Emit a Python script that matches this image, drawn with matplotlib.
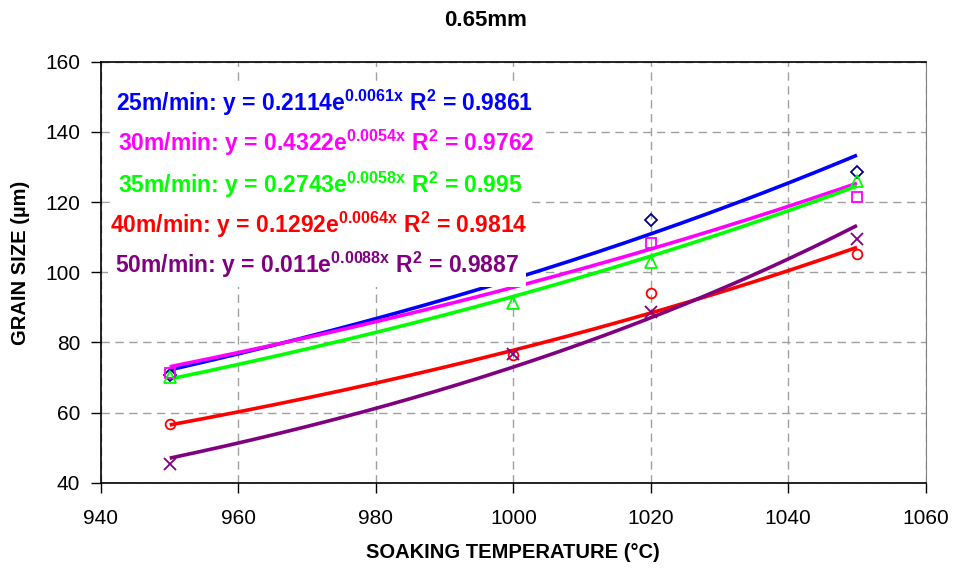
import numpy as np
import matplotlib
matplotlib.use("Agg")
import matplotlib.pyplot as plt

plt.rcParams['font.family'] = ['Liberation Sans', 'DejaVu Sans']
plt.rcParams['mathtext.fontset'] = 'custom'
plt.rcParams['mathtext.rm'] = 'Liberation Sans:bold'
plt.rcParams['mathtext.bf'] = 'Liberation Sans:bold'
plt.rcParams['mathtext.it'] = 'Liberation Sans:bold'

temps = [950, 1000, 1020, 1050]
speeds = ["25m/min", "30m/min", "35m/min", "40m/min", "50m/min"]
size_25 = [70.6, 99.5, 114.9, 128.5]
size_30 = [71.4, 98.5, 108.4, 121.5]
size_35 = [70.0, 91.1, 103.0, 126.0]
size_40 = [56.7, 76.5, 94.2, 105.1]
size_50 = [45.3, 76.7, 88.7, 109.4]
# trendline coefficients (y = a*exp(b*x)), exponents
coef_a = [0.2114, 0.4322, 0.2743, 0.1292, 0.011]
coef_b = [0.00614, 0.0054, 0.005827, 0.0064, 0.0088]
r2 = ["0.9861", "0.9762", "0.995", "0.9814", "0.9887"]
a_txt = ["0.2114", "0.4322", "0.2743", "0.1292", "0.011"]
b_txt = ["0.0061", "0.0054", "0.0058", "0.0064", "0.0088"]

series = [size_25, size_30, size_35, size_40, size_50]
line_colors = ['#0000FF', '#FF00FF', '#00FF00', '#FF0000', '#800080']
marker_colors = ['#000080', '#FF00FF', '#00FF00', '#FF0000', '#800080']
markers = ['D', 's', '^', 'o', 'x']
msizes = [6, 7, 8, 7, 9]

fig = plt.figure(figsize=(9.55, 5.7), dpi=100)
ax = fig.add_axes([101/955, 1-482.7/570, (925.7-101)/955, (482.7-61.7)/570])

xs = np.linspace(950, 1050, 200)
for i in range(5):
    ax.plot(xs, coef_a[i]*np.exp(coef_b[i]*xs), color=line_colors[i], lw=2.6,
            zorder=3, solid_capstyle='butt')
for i in range(5):
    if markers[i] == 'x':
        ax.plot(temps, series[i], linestyle='none', marker='x', ms=msizes[i],
                mec=marker_colors[i], mew=1.3, zorder=4)
    else:
        ax.plot(temps, series[i], linestyle='none', marker=markers[i], ms=msizes[i],
                mfc='none', mec=marker_colors[i], mew=1.3, zorder=4)

ax.set_xlim(940, 1060)
ax.set_ylim(40, 160)
ax.set_xticks(np.arange(940, 1061, 20))
ax.set_yticks(np.arange(40, 161, 20))
ax.grid(True, color='#A0A0A0', linestyle=(0, (6, 4)), linewidth=1)
ax.set_axisbelow(True)
ax.tick_params(direction='out', length=7, width=1, labelsize=15)
ax.tick_params(axis='x', pad=12)
ax.tick_params(axis='y', pad=8)
ax.spines['right'].set_color('#808080')
for s in ['left', 'bottom', 'top']:
    ax.spines[s].set_linewidth(1.2)

fig.text(513/955, 1-552/570, "SOAKING TEMPERATURE (°C)", fontsize=14.5,
         fontweight='bold', ha='center', va='center')
fig.text(20/955, 1-263/570, "GRAIN SIZE (µm)", fontsize=14.5, fontweight='bold',
         ha='center', va='center', rotation=90)
fig.text(486/955, 1-20/570, "0.65mm", ha='center', va='center', fontsize=16,
         fontweight='bold')

label_x = [116, 118, 118, 110, 115]
label_y = [103, 143, 185, 225, 265]
for i in range(5):
    s = (speeds[i] + ": y = " + a_txt[i] + "e$^{" + b_txt[i] + "x}$ R$^{2}$ = " + r2[i])
    fig.text(label_x[i]/955, 1-label_y[i]/570, s, color=line_colors[i],
             fontsize=16.5, fontweight='bold', ha='left', va='center', zorder=10,
             bbox=dict(facecolor='white', edgecolor='none', pad=5))

fig.savefig("out.png", dpi=100)
